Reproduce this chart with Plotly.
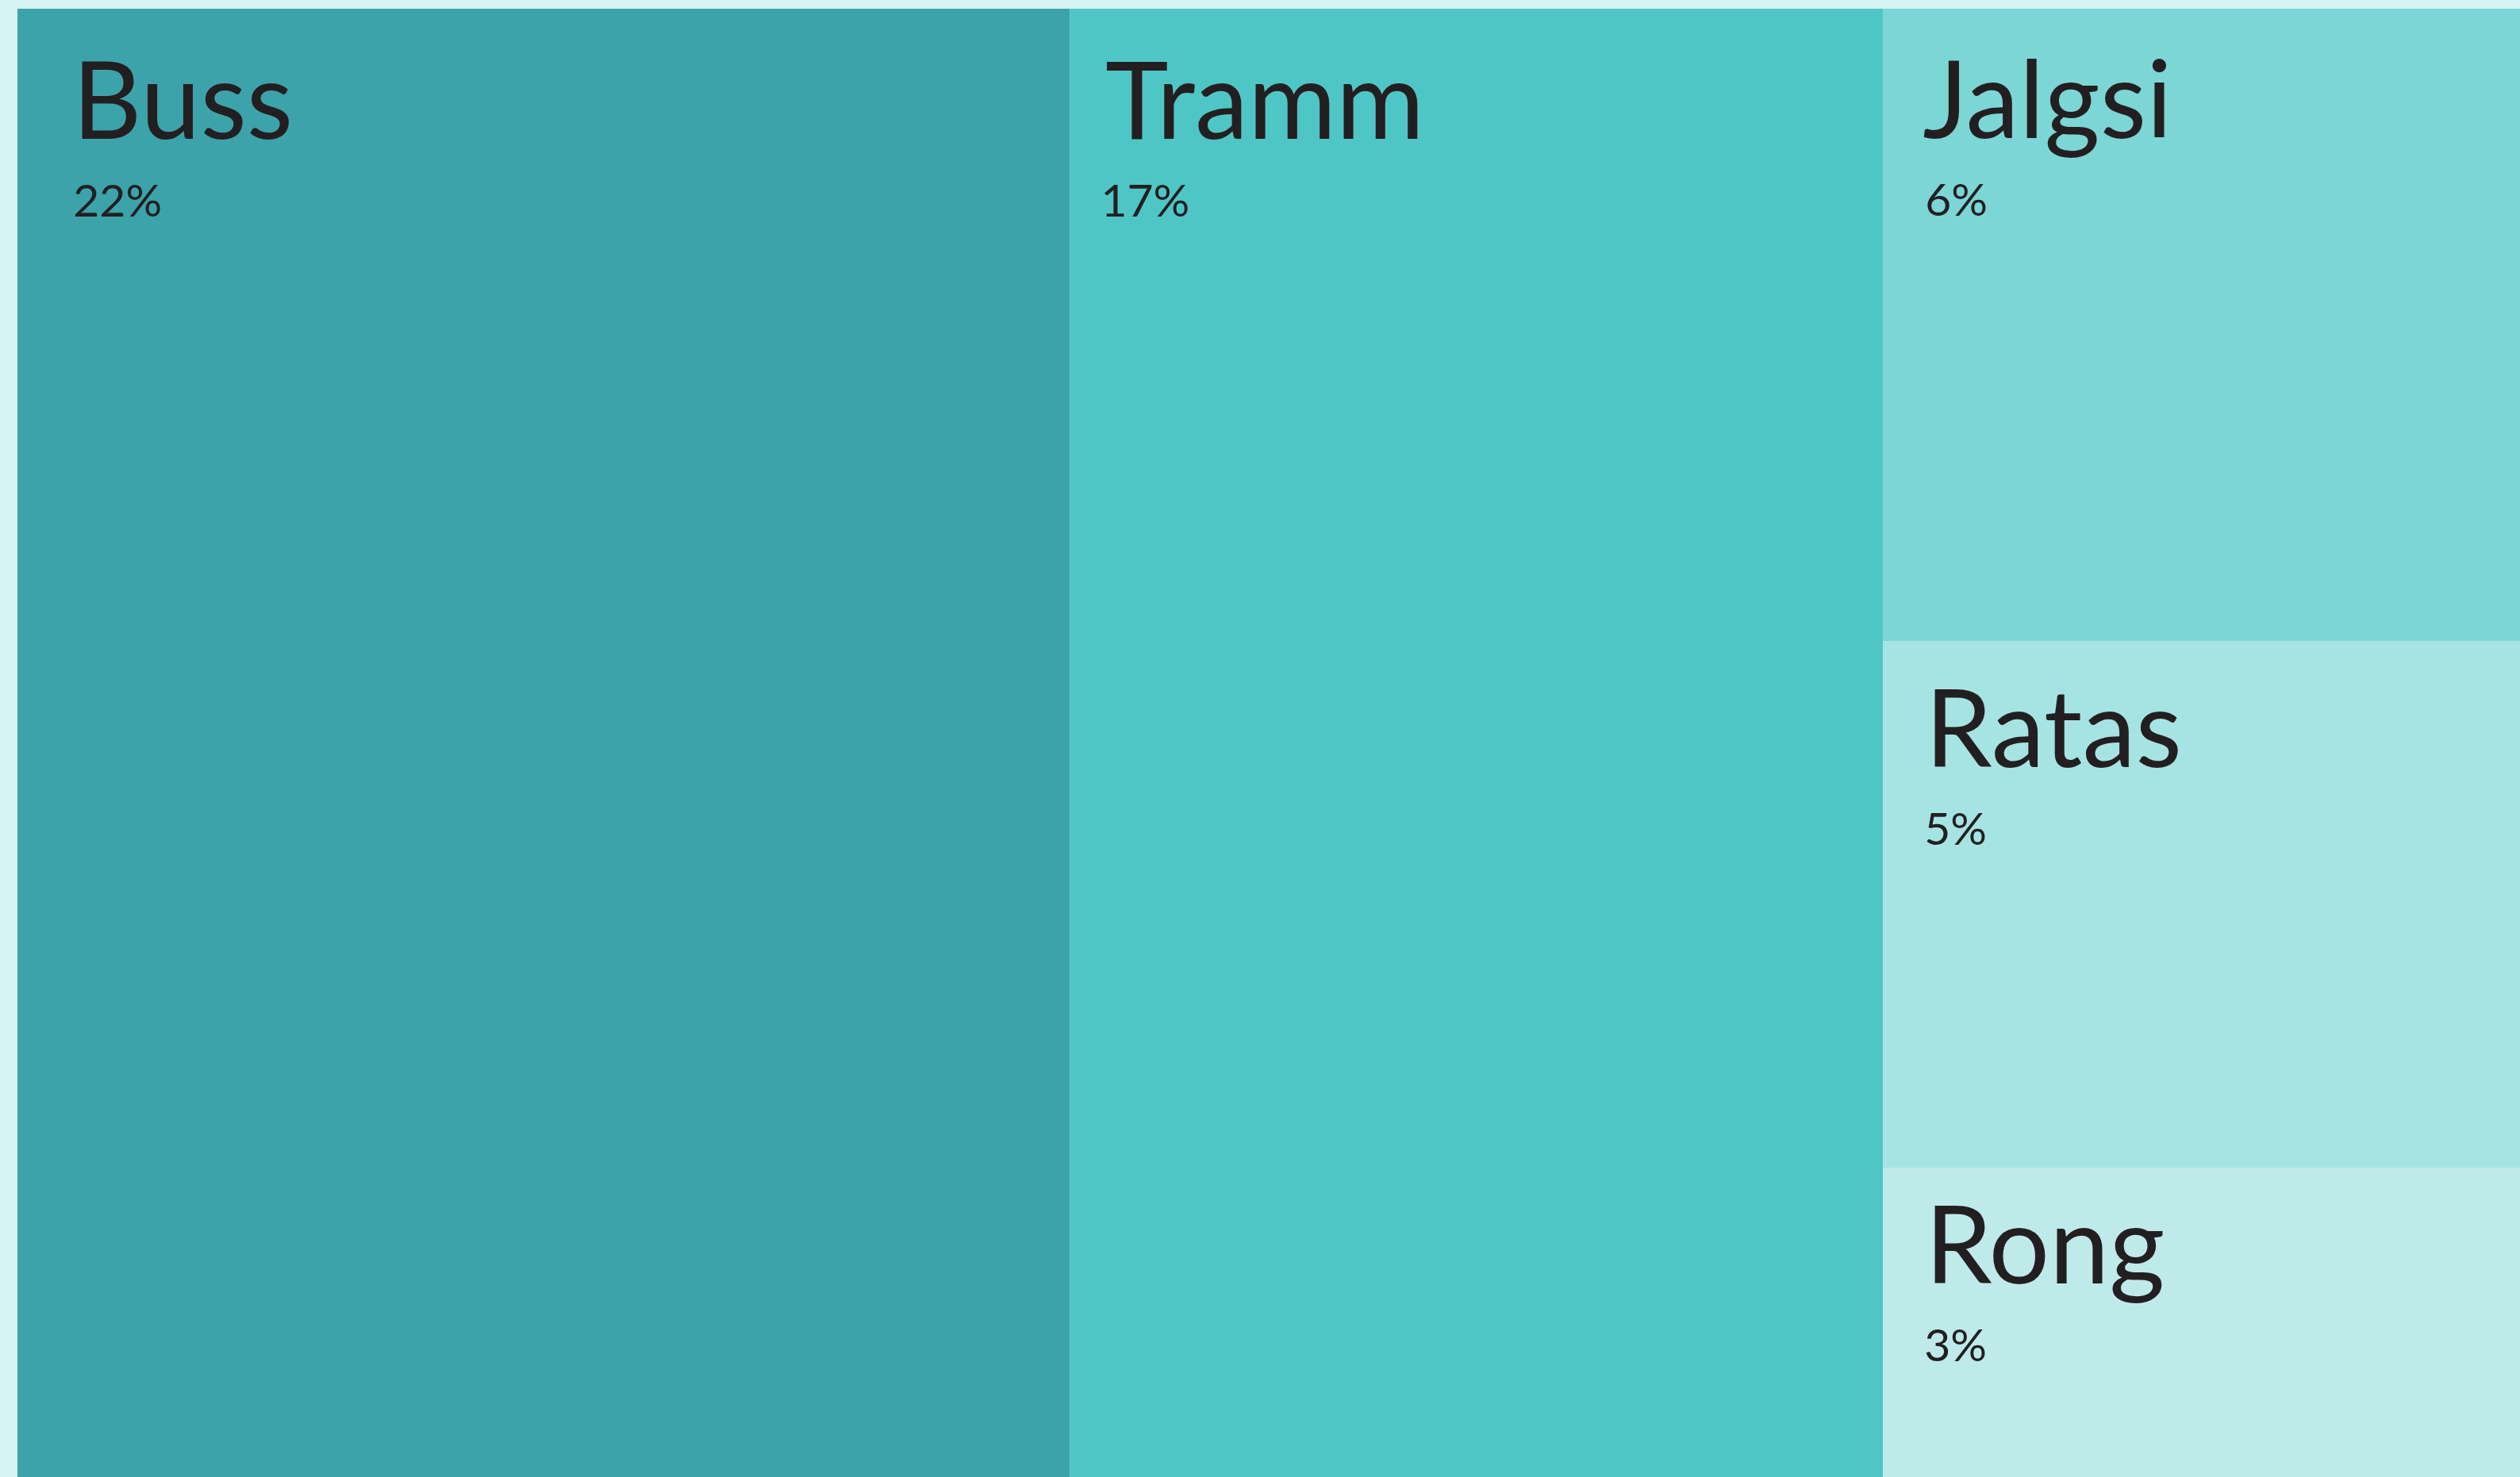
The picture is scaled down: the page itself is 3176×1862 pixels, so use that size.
import plotly.graph_objects as go

labels = ["Buss", "Tramm", "Jalgsi", "Ratas", "Rong"]
values = [22, 17, 6, 5, 3]
colors = ["#3ca3aa", "#4fc6c6", "#7cd6d6", "#a6e4e3", "#bfeaea"]

# text placement per tile (px): styling only
label_indent = [66, 40, 47, 50, 50]
pct_indent = [67, 36, 50, 49, 49]
spacer_size = [163, 163, 162, 158, 145]   # sets the top offset of each text block

NBSP_EM = 0.255   # width of a no-break space in Lato, in em


def pad_span(width, max_size=150):
    if width <= 0:
        return ""
    n = 1
    while width / (n * NBSP_EM) > max_size:
        n += 1
    size = width / (n * NBSP_EM)
    return f"<span style='font-size:{size:.1f}px'>" + "&nbsp;" * n + "</span>"


templates = []
for li, pi, sp in zip(label_indent, pct_indent, spacer_size):
    spacer_w = sp * NBSP_EM
    t = (
        f"<span style='font-size:{sp}px'>&nbsp;</span>"
        + pad_span(li - spacer_w)
        + "<span style='font-size:135px'>%{label}</span><br>"
        + pad_span(pi)
        + "<span style='font-size:57px'>%{value}%</span>"
    )
    templates.append(t)

fig = go.Figure(go.Treemap(
    labels=labels,
    parents=[""] * len(labels),
    values=values,
    marker=dict(colors=colors, line=dict(width=0), pad=dict(t=0, l=0, r=0, b=0)),
    tiling=dict(packing="squarify", squarifyratio=1, pad=0),
    texttemplate=templates,
    textposition="top left",
    textfont=dict(family="Lato", size=75, color="#231f20"),
    pathbar=dict(visible=False),
    sort=False,
    hoverinfo="skip",
))
fig.update_layout(
    width=3217, height=1871,
    margin=dict(l=22, t=11, r=0, b=0),
    paper_bgcolor="#d6f2f2",
)
fig.write_html(
    "out.html",
    config={"displayModeBar": False},
    post_script=(
        "document.body.style.margin='0';"
        "document.body.style.background='#d6f2f2';"
        "document.documentElement.style.overflow='hidden';"
        "document.body.style.overflow='hidden';"
    ),
)
